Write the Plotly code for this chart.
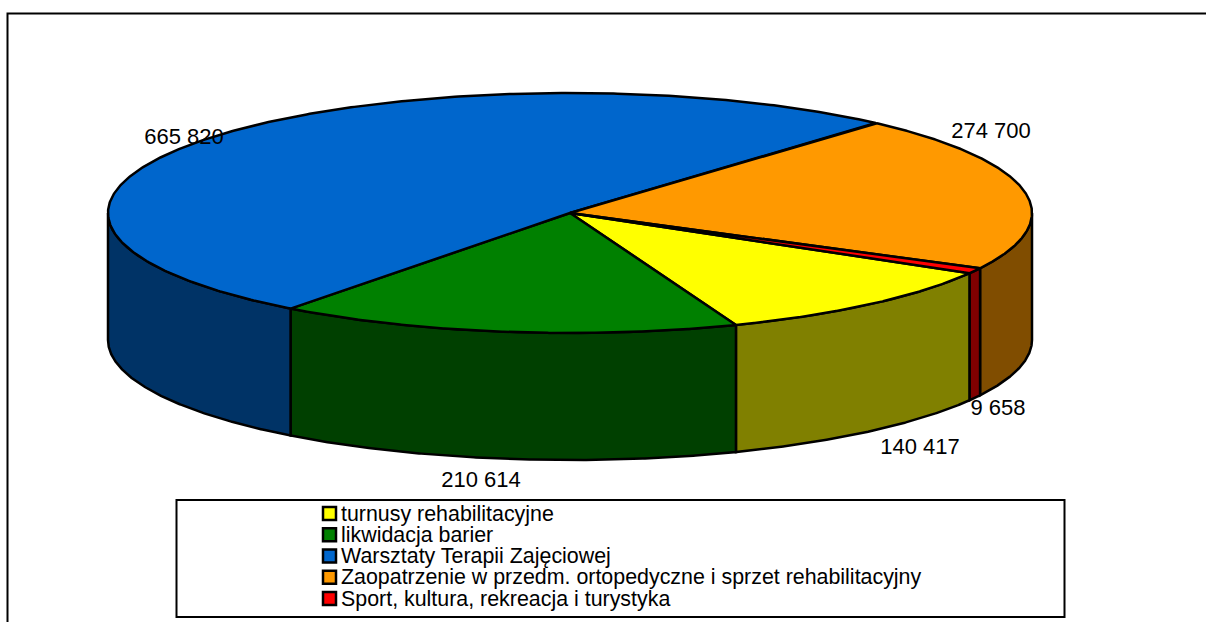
import numpy as np
import plotly.graph_objects as go

categories = ["turnusy rehabilitacyjne", "likwidacja barier", "Warsztaty Terapii Zajęciowej",
              "Zaopatrzenie w przedm. ortopedyczne i sprzet rehabilitacyjny",
              "Sport, kultura, rekreacja i turystyka"]
values = [140417, 210614, 665820, 274700, 9658]
value_labels = ["140 417", "210 614", "665 820", "274 700", "9 658"]
top_colors = ["#FFFF00", "#008000", "#0066CC", "#FF9900", "#FF0000"]
side_colors = ["#808000", "#004000", "#003366", "#804D00", "#800000"]

W, H = 1206, 622
CX, CY, RX, RY, DEPTH = 570, 213, 462, 120, 127
START = 30.1  # degrees clockwise from 3 o'clock
label_pos = [(920, 448), (481, 481), (184, 138), (991, 132), (998, 409)]
legend_x, legend_y0, legend_dy = 329.5, 513.5, 21.25


def ex(a):
    return CX + RX * np.cos(np.radians(a))


def ey(a):
    return CY + RY * np.sin(np.radians(a))


fig = go.Figure()
LINE = dict(color="black", width=2.5)
fracs = np.array(values) / sum(values) * 360
starts = START + np.concatenate([[0], np.cumsum(fracs)[:-1]])
ends = starts + fracs


def poly(xs, ys, fill, name):
    fig.add_trace(go.Scatter(x=xs, y=ys, mode="lines", fill="toself", fillcolor=fill, line=LINE,
                             showlegend=False, name=name, hoverinfo="name"))


# side walls: the portion of each slice lying on the front half of the ellipse
for cat, a0, a1, col in zip(categories, starts, ends, side_colors):
    for k in (-1, 0, 1):
        lo, hi = max(a0, k * 360), min(a1, k * 360 + 180)
        if hi > lo:
            t = np.linspace(lo, hi, 200)
            xs = np.concatenate([ex(t), ex(t)[::-1], ex(t)[:1]])
            ys = np.concatenate([ey(t), ey(t)[::-1] + DEPTH, ey(t)[:1]])
            poly(xs, ys, col, cat)

# top faces
for cat, a0, a1, col in zip(categories, starts, ends, top_colors):
    t = np.linspace(a0, a1, 400)
    poly(np.concatenate([[CX], ex(t), [CX]]), np.concatenate([[CY], ey(t), [CY]]), col, cat)

# value labels
fig.add_trace(go.Scatter(x=[p[0] for p in label_pos], y=[p[1] for p in label_pos], mode="text",
                         text=value_labels, textposition="middle center",
                         textfont=dict(family="Liberation Sans", size=22, color="black"),
                         showlegend=False, hoverinfo="skip"))

# legend rows
for i, (cat, col) in enumerate(zip(categories, top_colors)):
    fig.add_trace(go.Scatter(x=[legend_x], y=[legend_y0 + i * legend_dy], mode="markers",
                             marker=dict(symbol="square", size=13, color=col, line=LINE),
                             showlegend=False, hoverinfo="skip"))
    fig.add_annotation(x=legend_x + 11, y=legend_y0 + i * legend_dy, text=cat, showarrow=False,
                       xanchor="left", yanchor="middle", borderpad=0, borderwidth=0,
                       font=dict(family="Liberation Sans", size=21.4, color="black"))

fig.update_layout(
    width=W, height=H, margin=dict(l=0, r=0, t=0, b=0), autosize=False,
    paper_bgcolor="white", plot_bgcolor="white", showlegend=False,
    xaxis=dict(range=[0, W], visible=False, fixedrange=True),
    yaxis=dict(range=[H, 0], visible=False, fixedrange=True),
    shapes=[
        dict(type="rect", x0=7.5, y0=13.5, x1=W + 20, y1=H + 20, line=dict(color="black", width=2), layer="below"),
        dict(type="rect", x0=176.5, y0=500, x1=1064.5, y1=617, line=dict(color="black", width=2),
             fillcolor="white", layer="below"),
    ],
)
fig.write_html("out.html", config=dict(displayModeBar=False),
               post_script="document.body.style.margin='0';document.documentElement.style.overflow='hidden';")
